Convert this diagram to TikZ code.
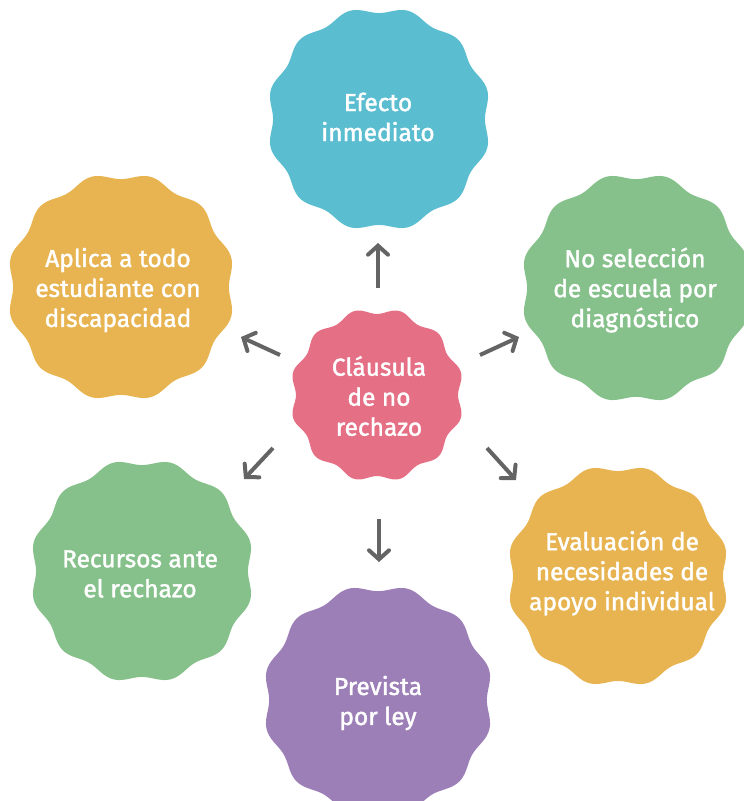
\documentclass[tikz,border=0pt]{standalone}
\usepackage{fontspec}
\setmainfont{Fira Sans}[UprightFeatures={FakeBold=1.6}]
\usetikzlibrary{arrows.meta}

\definecolor{petalblue}{HTML}{5BBDD0}
\definecolor{petalpink}{HTML}{E57086}
\definecolor{petalgold}{HTML}{E7B451}
\definecolor{petalgreen}{HTML}{86C18B}
\definecolor{petalviolet}{HTML}{9D7FB8}
\definecolor{arrowgray}{HTML}{646464}

\begin{document}
\begin{tikzpicture}[x=1pt,y=-1pt,
    label/.style={text=white, align=center, font=\fontsize{24.5}{30}\selectfont},
    pointer/.style={draw=arrowgray, line width=4pt,
      -{Straight Barb[length=9pt,width=20pt,line cap=round]}}]
  \useasboundingbox (0,0) rectangle (744,801);
  \clip (0,0) rectangle (744,801);
  % wavy discs
  \fill[petalblue, shift={(379,119)}] plot[domain=0:360, samples=241] (\x:{109*(1-0.028*cos(12*\x))}) -- cycle;
  \fill[petalgold, shift={(121,287)}] plot[domain=0:360, samples=241] (\x:{111*(1-0.028*cos(12*\x))}) -- cycle;
  \fill[petalgreen, shift={(636,288)}] plot[domain=0:360, samples=241] (\x:{112*(1-0.028*cos(12*\x))}) -- cycle;
  \fill[petalgold, shift={(618,576)}] plot[domain=0:360, samples=241] (\x:{108*(1-0.028*cos(12*\x))}) -- cycle;
  \fill[petalgreen, shift={(142,571)}] plot[domain=0:360, samples=241] (\x:{109*(1-0.028*cos(12*\x))}) -- cycle;
  \fill[petalviolet, shift={(378,700)}] plot[domain=0:360, samples=241] (\x:{112*(1-0.028*cos(12*\x))}) -- cycle;
  \fill[petalpink, shift={(377,395)}] plot[domain=0:360, samples=241] (\x:{84*(1-0.035*cos(12*\x))}) -- cycle;
  % texts
  \node[label] (clausula) at (379,396) {Cláusula\\de no\\rechazo};
  \node[label] (efecto) at (378,117) {Efecto\\inmediato};
  \node[label] (aplica) at (118,290) {Aplica a todo\\estudiante con\\discapacidad};
  \node[label] (seleccion) at (635,290) {No selección\\de escuela por\\diagnóstico};
  \node[label] (evaluacion) at (622,573) {Evaluación de\\necesidades de\\apoyo individual};
  \node[label] (recursos) at (140,574) {Recursos ante\\el rechazo};
  \node[label] (prevista) at (378,703) {Prevista\\por ley};
  % arrow ends
  \coordinate (upA) at (378,288);  \coordinate (upB) at (378,243);
  \coordinate (ulA) at (280,355);  \coordinate (ulB) at (241,337);
  \coordinate (urA) at (480,355);  \coordinate (urB) at (519,337);
  \coordinate (llA) at (273,448);  \coordinate (llB) at (244,479);
  \coordinate (lrA) at (487,448);  \coordinate (lrB) at (516,480);
  \coordinate (dnA) at (379,519);  \coordinate (dnB) at (379,562);
  \draw[pointer] (upA) -- (upB);
  \draw[pointer] (ulA) -- (ulB);
  \draw[pointer] (urA) -- (urB);
  \draw[pointer] (llA) -- (llB);
  \draw[pointer] (lrA) -- (lrB);
  \draw[pointer] (dnA) -- (dnB);
\end{tikzpicture}
\end{document}
